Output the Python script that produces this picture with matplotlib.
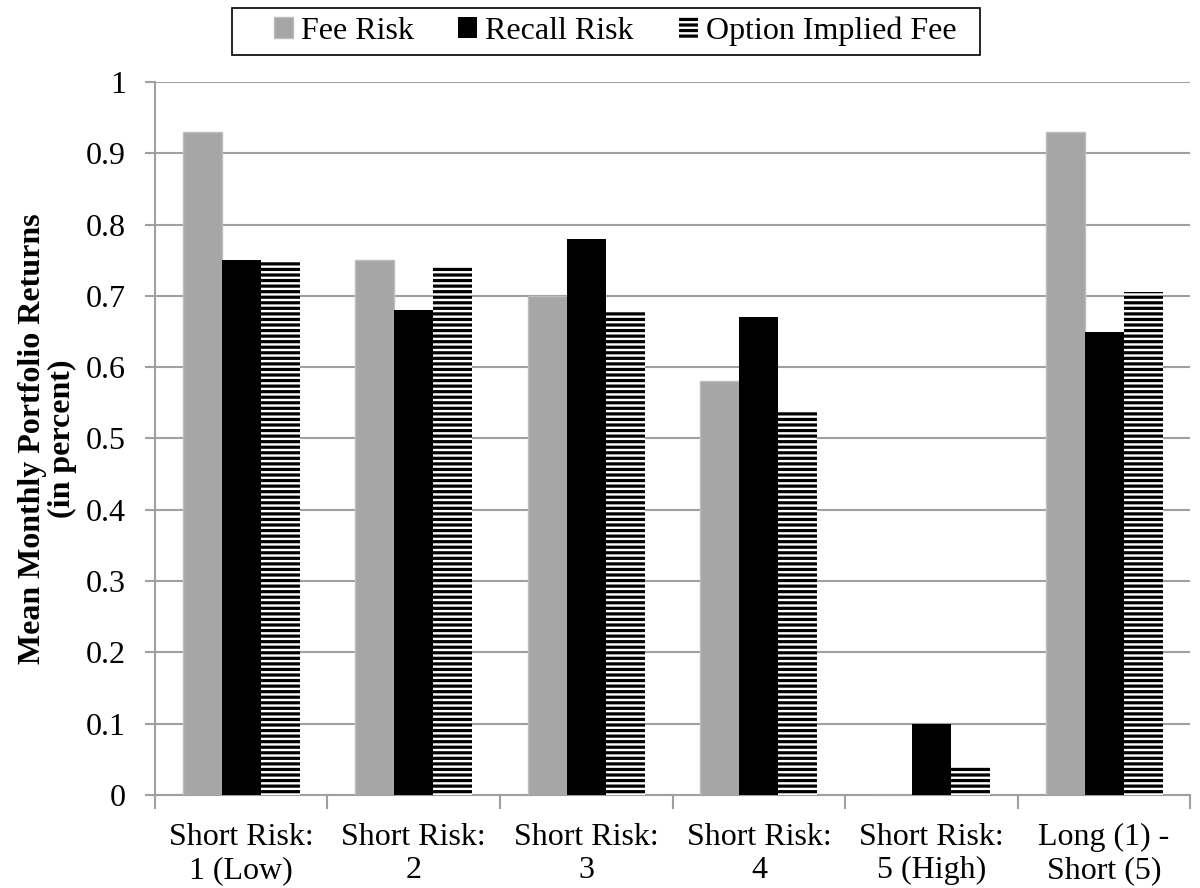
import numpy as np
import matplotlib.pyplot as plt
from matplotlib.patches import Rectangle

plt.rcParams['font.family'] = ['Liberation Serif', 'DejaVu Serif']
plt.rcParams['hatch.linewidth'] = 2.3

categories = ['Short Risk:\n1 (Low)', 'Short Risk:\n2', 'Short Risk:\n3',
              'Short Risk:\n4', 'Short Risk:\n5 (High)', 'Long (1) -\nShort (5)']
fee_risk = [0.93, 0.75, 0.70, 0.58, 0.0, 0.93]
recall_risk = [0.75, 0.68, 0.78, 0.67, 0.10, 0.65]
option_fee = [0.748, 0.74, 0.68, 0.54, 0.04, 0.705]

fs = 23

fig = plt.figure(figsize=(12, 8.88), dpi=100)
ax = fig.add_axes([0.129, 0.1047, 0.863, 0.803])

x = np.arange(len(categories))
w = 0.226
ax.bar(x - w, fee_risk, w, color='#A6A6A6', edgecolor='#BDBDBD', linewidth=1, label='Fee Risk', zorder=3)
ax.bar(x, recall_risk, w, color='black', linewidth=0, label='Recall Risk', zorder=3)
ax.bar(x + w, option_fee, w, color='white', edgecolor='black', linewidth=0,
       hatch='---', label='Option Implied Fee', zorder=3)

ax.set_xlim(-0.5, len(categories) - 0.5)
ax.set_ylim(0, 1)
ax.set_yticks(np.arange(0, 1.01, 0.1))
ax.set_yticklabels(['0'] + ['%.1f' % v for v in np.arange(0.1, 0.95, 0.1)] + ['1'])
ax.yaxis.grid(True, color='#A0A0A0', linewidth=1.5, zorder=0)

ax.set_xticks(x)
ax.set_xticklabels(categories, fontsize=fs, linespacing=1.2)
ax.set_xticks(np.arange(-0.5, len(categories)), minor=True)
ax.tick_params(axis='x', which='major', length=0, pad=20)
ax.tick_params(axis='x', which='minor', length=10, color='#A0A0A0', width=1.5)
ax.tick_params(axis='y', labelsize=fs, length=7, color='#A0A0A0', width=1.5, pad=14)

for s in ['top', 'right']:
    ax.spines[s].set_visible(False)
for s in ['left', 'bottom']:
    ax.spines[s].set_color('#A0A0A0')
    ax.spines[s].set_linewidth(1.5)

ax.set_ylabel('Mean Monthly Portfolio Returns\n(in percent)', fontsize=fs,
              fontweight='bold', labelpad=6, linespacing=1.05)

leg = fig.legend(loc='center', bbox_to_anchor=(0.5125, 1 - 31 / 888), ncol=3,
                 fontsize=fs, frameon=False,
                 handlelength=0.6, handleheight=0.6, handletextpad=0.25,
                 columnspacing=1.4, borderpad=0.25)
# legend box (wider on the left, as in the original)
fig.patches.append(Rectangle((232 / 1200, 1 - 55 / 888), 748 / 1200, 47 / 888,
                             transform=fig.transFigure, fill=False,
                             edgecolor='black', linewidth=1.2))

fig.savefig('out.png', dpi=100)
